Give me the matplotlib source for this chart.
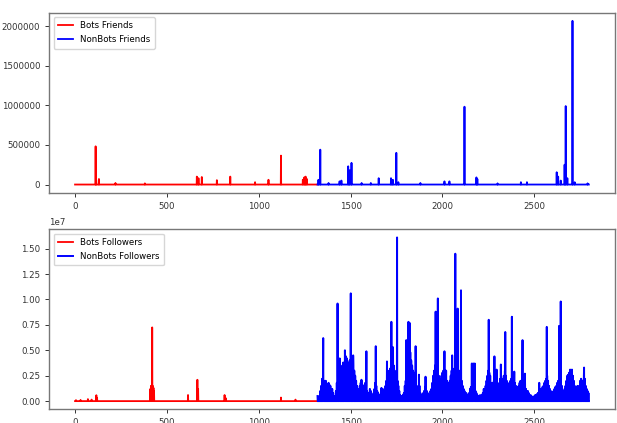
import numpy as np
import matplotlib
matplotlib.use("Agg")
import matplotlib.pyplot as plt
from matplotlib.ticker import MultipleLocator

# ---------------- data ----------------
n_bots = 1320
n_total = 2798

# Top: friends counts (sparse spikes, baseline ~0)
bots_friends_idx = [112, 115, 130, 220, 380, 663, 672, 690, 772, 845, 980, 1053, 1121, 1240, 1248, 1255, 1262]
bots_friends_val = [482000, 60000, 70000, 20000, 15000, 100000, 80000, 95000, 55000, 100000, 30000, 60000,
                    365000, 60000, 90000, 100000, 70000]

nonbots_friends_idx = [1325, 1335, 1380, 1440, 1450, 1487, 1495, 1505, 1560, 1610, 1653, 1720, 1730, 1749,
                       1760, 1880, 2011, 2038, 2120, 2185, 2190, 2300, 2427, 2460, 2622, 2630, 2644, 2665,
                       2671, 2680, 2708, 2720, 2790]
nonbots_friends_val = [60000, 440000, 20000, 40000, 50000, 230000, 180000, 273000, 20000, 20000, 80000, 80000,
                       60000, 400000, 30000, 20000, 40000, 40000, 982000, 90000, 70000, 15000, 30000, 30000,
                       155000, 100000, 50000, 250000, 990000, 80000, 2065000, 30000, 15000]

# Bottom: followers counts (in units of 1e7)
bots_followers_idx = [5, 30, 70, 90, 116, 120, 410, 413, 416, 420, 423, 427, 430, 615, 666, 670, 814, 820, 1121, 1200]
bots_followers_val = [0.01, 0.012, 0.02, 0.015, 0.058, 0.03, 0.12, 0.15, 0.14, 0.725, 0.15, 0.13, 0.10,
                      0.06, 0.21, 0.12, 0.06, 0.03, 0.035, 0.015]

# dense background level of non-bot followers, readings every 10 records from 1320 ...
nonbots_followers_base_start = 1320
nonbots_followers_base = [
    0.05, 0.05, 0.15, 0.28, 0.20, 0.17, 0.18, 0.15, 0.12, 0.05,
    0.10, 0.25, 0.35, 0.30, 0.38, 0.40, 0.42, 0.35, 0.45, 0.40,
    0.30, 0.20, 0.12, 0.15, 0.20, 0.14, 0.18, 0.10, 0.08, 0.10,
    0.06, 0.12, 0.15, 0.08, 0.05, 0.10, 0.06, 0.15, 0.25, 0.30,
    0.35, 0.28, 0.30, 0.25, 0.15, 0.06, 0.05, 0.08, 0.20, 0.35,
    0.45, 0.40, 0.30, 0.25, 0.15, 0.12, 0.08, 0.05, 0.10, 0.15,
    0.08, 0.06, 0.12, 0.25, 0.35, 0.30, 0.25, 0.20, 0.28, 0.35,
    0.25, 0.15, 0.20, 0.30, 0.25, 0.40, 0.35, 0.30, 0.25, 0.15,
    0.10, 0.08, 0.05, 0.12, 0.10, 0.15, 0.10, 0.06, 0.04, 0.05,
    0.08, 0.10, 0.20, 0.30, 0.25, 0.15, 0.20, 0.25, 0.15, 0.18,
    0.25, 0.20, 0.30, 0.20, 0.15, 0.20, 0.25, 0.20, 0.15, 0.12,
    0.18, 0.20, 0.22, 0.15, 0.10, 0.08, 0.06, 0.04, 0.05, 0.06,
    0.08, 0.10, 0.12, 0.15, 0.20, 0.25, 0.15, 0.10, 0.08, 0.12,
    0.15, 0.20, 0.25, 0.15, 0.08, 0.15, 0.25, 0.28, 0.30, 0.25,
    0.15, 0.10, 0.12, 0.20, 0.18, 0.25, 0.15, 0.10,
]
# ... and the readings in between (from 1325, every 10 records)
nonbots_followers_mid_start = 1325
nonbots_followers_mid = [
    0.03, 0.10, 0.22, 0.18, 0.20, 0.14, 0.16, 0.10, 0.08, 0.04,
    0.18, 0.30, 0.28, 0.35, 0.32, 0.44, 0.38, 0.40, 0.38, 0.35,
    0.25, 0.15, 0.10, 0.18, 0.16, 0.12, 0.15, 0.08, 0.12, 0.05,
    0.08, 0.18, 0.10, 0.06, 0.08, 0.12, 0.10, 0.20, 0.28, 0.32,
    0.30, 0.35, 0.28, 0.20, 0.10, 0.04, 0.06, 0.15, 0.28, 0.42,
    0.48, 0.35, 0.28, 0.20, 0.10, 0.15, 0.06, 0.08, 0.12, 0.10,
    0.05, 0.10, 0.18, 0.30, 0.32, 0.28, 0.22, 0.25, 0.30, 0.30,
    0.20, 0.18, 0.25, 0.28, 0.32, 0.38, 0.30, 0.28, 0.20, 0.12,
    0.06, 0.06, 0.08, 0.14, 0.12, 0.10, 0.08, 0.05, 0.06, 0.06,
    0.12, 0.15, 0.25, 0.28, 0.18, 0.18, 0.22, 0.20, 0.16, 0.22,
    0.22, 0.25, 0.25, 0.18, 0.16, 0.22, 0.22, 0.18, 0.14, 0.15,
    0.20, 0.25, 0.18, 0.12, 0.10, 0.05, 0.05, 0.04, 0.06, 0.07,
    0.09, 0.12, 0.14, 0.18, 0.22, 0.20, 0.12, 0.09, 0.10, 0.14,
    0.18, 0.22, 0.20, 0.10, 0.12, 0.20, 0.26, 0.30, 0.28, 0.20,
    0.12, 0.10, 0.15, 0.22, 0.20, 0.22, 0.12, 0.08,
]
nonbots_followers_idx = [1351, 1429, 1441, 1469, 1501, 1514, 1559, 1586, 1637, 1668, 1698, 1722, 1731, 1753,
                         1803, 1815, 1821, 1854, 1872, 1908, 1963, 1975, 2011, 2020, 2053, 2070, 2083, 2101,
                         2160, 2168, 2176, 2252, 2283, 2295, 2318, 2342, 2378, 2391, 2436, 2449, 2527, 2568,
                         2635, 2644, 2695, 2705, 2735, 2762, 2771]
nonbots_followers_val = [0.62, 0.96, 0.42, 0.50, 1.06, 0.45, 0.21, 0.49, 0.54, 0.13, 0.39, 0.78, 0.53, 1.61,
                         0.60, 0.78, 0.77, 0.54, 0.26, 0.24, 0.88, 1.01, 0.49, 0.30, 0.45, 1.45, 0.91, 1.09,
                         0.37, 0.37, 0.37, 0.80, 0.44, 0.31, 0.36, 0.68, 0.83, 0.29, 0.60, 0.27, 0.18, 0.73,
                         0.74, 0.98, 0.31, 0.31, 0.15, 0.20, 0.33]

# ---------------- build series ----------------
x_bots = np.arange(0, n_bots)
x_non = np.arange(n_bots, n_total)

bf = np.zeros(n_bots)
bf[bots_friends_idx] = bots_friends_val
nf = np.zeros(n_total - n_bots)
nf[np.array(nonbots_friends_idx) - n_bots] = nonbots_friends_val

bfo = np.zeros(n_bots)
bfo[bots_followers_idx] = np.array(bots_followers_val) * 1e7
nfo = np.zeros(n_total - n_bots)
p1 = nonbots_followers_base_start + 10 * np.arange(len(nonbots_followers_base)) - n_bots
nfo[p1] = np.array(nonbots_followers_base) * 1e7
p2 = nonbots_followers_mid_start + 10 * np.arange(len(nonbots_followers_mid)) - n_bots
nfo[p2] = np.array(nonbots_followers_mid) * 1e7
pk = np.array(nonbots_followers_idx) - n_bots
nfo[pk] = np.maximum(nfo[pk], np.array(nonbots_followers_val) * 1e7)

# ---------------- plot ----------------
fig = plt.figure(figsize=(6.17, 4.23), dpi=100)
ax1 = fig.add_axes([0.080, 0.5444, 0.916, 0.4256])
ax2 = fig.add_axes([0.080, 0.0324, 0.916, 0.4256])

fs = 6.2
lw = 1.3
ax1.plot(x_bots, bf, color='red', lw=lw, label='Bots Friends')
ax1.plot(x_non, nf, color='blue', lw=lw, label='NonBots Friends')
ax2.plot(x_bots, bfo, color='red', lw=lw, label='Bots Followers')
ax2.plot(x_non, nfo, color='blue', lw=1.4, label='NonBots Followers')

ax1.ticklabel_format(style='plain', axis='y')
ax2.yaxis.set_major_locator(MultipleLocator(0.25e7))
for ax in (ax1, ax2):
    ax.tick_params(labelsize=fs, colors='#333333', length=3, width=0.7)
    for s in ax.spines.values():
        s.set_color('#777777')
        s.set_linewidth(1.0)
    ax.legend(loc='upper left', fontsize=fs, handlelength=1.8, borderpad=0.5, labelspacing=0.6,
              framealpha=0.8)
ax2.yaxis.get_offset_text().set_fontsize(fs)
ax2.yaxis.get_offset_text().set_color('#333333')

fig.savefig('out.png', dpi=100)
